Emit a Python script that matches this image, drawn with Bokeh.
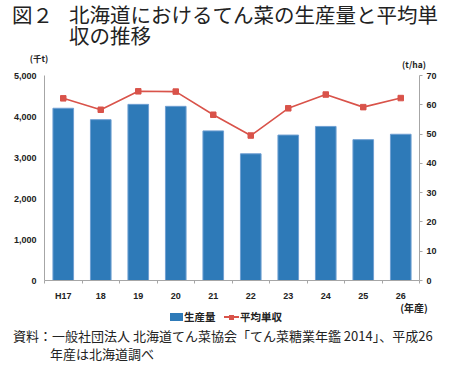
import numpy as np
from bokeh.plotting import figure
from bokeh.models import (Range1d, LinearAxis, FixedTicker, ColumnDataSource,
                          NumeralTickFormatter, Div)
from bokeh.layouts import column
from bokeh.embed import file_html
from bokeh.resources import INLINE

# ---- data ----
years = ["H17", "18", "19", "20", "21", "22", "23", "24", "25", "26"]
production = [4201, 3923, 4296, 4248, 3649, 3090, 3547, 3758, 3435, 3567]   # 千t
yield_ha = [62.2, 58.3, 64.6, 64.5, 56.6, 49.5, 58.8, 63.5, 59.2, 62.3]      # t/ha
left_ticks = [0, 1000, 2000, 3000, 4000, 5000]
right_ticks = [0, 10, 20, 30, 40, 50, 60, 70]
series_names = ["生産量", "平均単収"]
title_fig = "図２"
title_text = ["北海道におけるてん菜の生産量と平均単", "収の推移"]
unit_left, unit_right, unit_x = "(千t)", "(t/ha)", "(年産)"
source_lines = ["資料：一般社団法人 北海道てん菜協会「てん菜糖業年鑑 2014」、平成26",
                "年産は北海道調べ"]

BLUE = "#2e7ab8"
RED = "#d9534a"
AXIS = "#a6a6a6"
TXT = "#222222"
JP = "'Noto Sans CJK JP'"
NUM = "Liberation Sans"
W = 450

# ---------------- chart ----------------
xpos = np.arange(len(years)) + 0.5
src = ColumnDataSource(dict(x=xpos, prod=production, yld=yield_ha))

p = figure(width=W, height=233, output_backend="svg", toolbar_location=None,
           x_range=Range1d(0, len(years)), y_range=Range1d(0, 5000),
           min_border_left=44, min_border_right=31, min_border_top=5, min_border_bottom=20,
           margin=0)
p.extra_y_ranges = {"r": Range1d(0, 70)}
p.outline_line_color = None
p.xgrid.visible = False
p.ygrid.visible = False

p.vbar(x="x", top="prod", width=0.55, source=src, fill_color=BLUE,
       line_color="#6f9fd2", line_width=1)
p.line(x="x", y="yld", source=src, y_range_name="r", line_color=RED, line_width=1.6)
p.scatter(x="x", y="yld", source=src, y_range_name="r", marker="square", size=5.5,
          fill_color=RED, line_color=RED)

def style_axis(ax):
    ax.axis_line_color = AXIS
    ax.major_label_text_font = NUM
    ax.major_label_text_font_style = "bold"
    ax.major_label_text_font_size = "9px"
    ax.major_label_text_color = TXT
    ax.minor_tick_line_color = None

xa = p.xaxis[0]
style_axis(xa)
xa.ticker = FixedTicker(ticks=list(xpos), minor_ticks=list(range(len(years) + 1)))
xa.major_label_overrides = {float(x): y for x, y in zip(xpos, years)}
xa.major_tick_line_color = None
xa.major_tick_out = 0
xa.major_tick_in = 0
xa.minor_tick_line_color = AXIS
xa.minor_tick_out = 3
xa.minor_tick_in = 0
xa.major_label_standoff = 7

ya = p.yaxis[0]
style_axis(ya)
ya.ticker = FixedTicker(ticks=left_ticks)
ya.formatter = NumeralTickFormatter(format="0,0")
ya.major_tick_line_color = None
ya.major_tick_out = 0
ya.major_tick_in = 0
ya.major_label_standoff = 8

ra = LinearAxis(y_range_name="r", ticker=FixedTicker(ticks=right_ticks))
style_axis(ra)
ra.major_tick_line_color = AXIS
ra.major_tick_out = 3
ra.major_tick_in = 0
ra.major_label_standoff = 4
p.add_layout(ra, "right")

# ---------------- texts (HTML) ----------------
def span(text, left, top, size, lh, weight="normal", width=None, align="left", font=JP):
    w = f"width:{width}px;" if width else ""
    return (f'<span style="position:absolute;left:{left}px;top:{top}px;{w}text-align:{align};'
            f'font-family:{font};font-size:{size}px;line-height:{lh}px;font-weight:{weight};'
            f'color:{TXT};white-space:nowrap;">{text}</span>')

def box(html, h):
    return Div(text=f'<div style="position:relative;width:{W}px;height:{h}px;overflow:visible;">'
                    f'{html}</div>', width=W, height=h, margin=0)

title_html = (f'<div style="position:absolute;left:12px;top:4px;padding-left:57px;'
              f'text-indent:-57px;font-family:{JP};font-size:20.5px;line-height:21px;'
              f'color:{TXT};white-space:nowrap;">{title_fig}'
              f'<span style="display:inline-block;width:16px;"></span>'
              f'{title_text[0]}<br>{title_text[1]}</div>')
top_html = (title_html +
            span(unit_left, 24, 53, 8.5, 10, weight="bold", width=30, align="center") +
            span(unit_right, 399, 59, 8.5, 10, weight="bold", width=30, align="center"))
top_div = box(top_html, 70)

LY = 0  # legend row offset inside the bottom block
legend_html = (
    f'<span style="position:absolute;left:170px;top:{10 + LY}px;width:13px;height:8px;'
    f'background:{BLUE};"></span>' +
    span(series_names[0], 184, 7 + LY, 10.5, 14, weight="bold") +
    f'<span style="position:absolute;left:224px;top:{13 + LY}px;width:15px;height:2px;background:{RED};"></span>'
    f'<span style="position:absolute;left:229px;top:{11.5 + LY}px;width:5px;height:5px;background:{RED};"></span>' +
    span(series_names[1], 240, 7 + LY, 10.5, 14, weight="bold"))
bottom_html = (span(unit_x, 394, -1, 10, 12, weight="bold", width=40, align="center") +
               legend_html +
               span(source_lines[0], 13, 25, 13, 16) +
               span(source_lines[1], 50, 43, 13, 16))
bottom_div = box(bottom_html, 66)

layout = column(top_div, p, bottom_div, spacing=0, margin=0)
open("out.html", "w").write(file_html(layout, INLINE))
